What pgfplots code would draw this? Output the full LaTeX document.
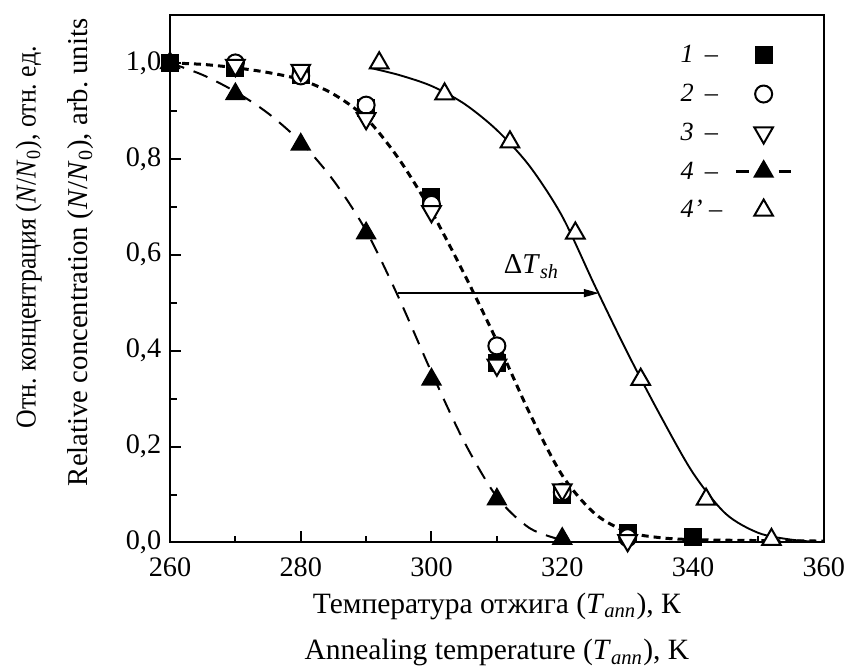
\documentclass[border=0pt]{standalone}
\usepackage{fontspec}
\setmainfont{Liberation Serif}
\newfontfamily\narrowserif[FakeStretch=0.9]{Liberation Serif}
\usepackage{pgfplots}
\pgfplotsset{compat=1.18}
\usetikzlibrary{arrows.meta}
\frenchspacing

\pgfplotstableread{
T v
260 1.0
270 0.99
280 0.975
290 0.905
300 0.72
310 0.375
320 0.10
330 0.02
340 0.012
}\sone
\pgfplotstableread{
T v
270 1.0
280 0.973
290 0.912
300 0.705
310 0.41
320 0.105
330 0.01
}\stwo
\pgfplotstableread{
T v
270 0.995
280 0.985
290 0.884
300 0.69
310 0.37
320 0.11
330 0.004
}\sthree
\pgfplotstableread{
T v
260 1.0
270 0.935
280 0.83
290 0.645
300 0.34
310 0.09
320 0.008
}\sfour
\pgfplotstableread{
T v
292 1.0
302 0.935
312 0.835
322 0.645
332 0.34
342 0.09
352 0.006
}\sfourp
\pgfplotstableread{
T v
260 1.0
265 0.997
270 0.99
275 0.98
280 0.965
285 0.935
290 0.885
295 0.80
300 0.69
305 0.56
310 0.42
315 0.27
320 0.14
325 0.06
330 0.022
335 0.01
340 0.006
350 0.004
360 0.003
}\fitdotted
\pgfplotstableread{
T v
260 1.0
265 0.975
270 0.94
275 0.895
280 0.835
285 0.755
290 0.65
295 0.51
300 0.355
305 0.21
310 0.095
315 0.03
320 0.005
}\fitdashed
\pgfplotstableread{
T v
290.5 0.99
295 0.975
300 0.952
305 0.915
310 0.86
315 0.785
320 0.68
325 0.535
330 0.395
335 0.265
340 0.145
345 0.06
350 0.02
355 0.006
360 0.0
}\fitsolid

\pgfplotsset{
  markleg/.style={legend image code/.code={\draw[##1, only marks] plot coordinates {(0.39cm,0cm)};}},
  dashleg/.style={legend image code/.code={\draw[black, line width=0.9pt] (0cm,0cm) -- (0.18cm,0cm); \draw[black, line width=0.9pt] (0.6cm,0cm) -- (0.78cm,0cm); \draw[##1, only marks] plot coordinates {(0.39cm,0cm)};}},
}

\begin{document}
\begin{tikzpicture}
\begin{axis}[
  scale only axis, width=261.5pt, height=211pt,
  xmin=260, xmax=360, ymin=0, ymax=1.1,
  xtick={260,280,300,320,340,360},
  ytick={0,0.2,0.4,0.6,0.8,1.0},
  minor x tick num=1, minor y tick num=1,
  tick align=inside, xtick pos=bottom, ytick pos=left,
  major tick length=4.5pt, minor tick length=2.6pt,
  axis line style={line width=0.8pt},
  every tick/.style={black, line width=0.8pt},
  tick label style={font=\fontsize{11.3}{13}\selectfont},
  xticklabel style={yshift=-2.5pt},
  /pgf/number format/assume math mode=true,
  yticklabel style={/pgf/number format/.cd, fixed, fixed zerofill, precision=1, use comma},
  xlabel={Температура отжига (\textit{T}\textsubscript{\textit{ann}}), К\\[4.6pt]Annealing temperature (\textit{T}\textsubscript{\textit{ann}}), K},
  xlabel style={align=center, font=\fontsize{11.8}{14}\selectfont, at={(rel axis cs:0.5,0)}, anchor=north, yshift=-16.6pt},
  ylabel={Relative concentration (\textit{N}/\textit{N}\textsubscript{0}), arb. units},
  ylabel style={name=ylab, font=\fontsize{11.5}{14}\selectfont, at={(ticklabel cs:0.55)}},
  ylabel shift=6pt,
  legend plot pos=right,
  legend cell align=left,
  legend style={at={(0.953,0.953)}, anchor=north east, draw=none, fill=none,
    inner sep=0pt, row sep=3.5pt, column sep=4pt,
    font=\fontsize{10.5}{12.5}\selectfont,
    nodes={text height=8pt, text depth=2pt, inner sep=1pt}},
  markleg,
]
% fitted curves
\addplot[black, line width=1.2pt, dash pattern=on 2.8pt off 2pt, smooth, tension=0.5, forget plot] table[x=T,y=v] {\fitdotted};
\addplot[black, line width=0.8pt, dash pattern=on 6pt off 4pt, smooth, tension=0.5, forget plot] table[x=T,y=v] {\fitdashed};
\addplot[black, line width=0.75pt, smooth, tension=0.5, forget plot] table[x=T,y=v] {\fitsolid};
% data
\addplot[only marks, mark=square*, mark size=3.3pt, black, mark options={solid, line width=0.6pt}] table[x=T,y=v] {\sone};
\addlegendentry{\textit{1}\, –}
\addplot[only marks, mark=*, mark size=3.4pt, black, mark options={solid, fill=white, line width=0.8pt}] table[x=T,y=v] {\stwo};
\addlegendentry{\textit{2}\, –}
\addplot[only marks, mark=triangle*, mark size=4.3pt, black, mark options={solid, rotate=180, fill=white, line width=0.8pt}] table[x=T,y=v] {\sthree};
\addlegendentry{\textit{3}\, –}
\addplot[only marks, mark=triangle*, mark size=4.3pt, black, mark options={solid, line width=0.6pt}, dashleg] table[x=T,y=v] {\sfour};
\addlegendentry{\textit{4}\, –}
\addplot[only marks, mark=triangle*, mark size=4.3pt, black, mark options={solid, fill=white, line width=0.8pt}] table[x=T,y=v] {\sfourp};
\addlegendentry{\textit{4'} –}
% shift arrow
\draw[-{Triangle[length=6pt,width=3.2pt]}, line width=0.5pt] (axis cs:294.8,0.52) -- (axis cs:325.6,0.52);
\node[font=\fontsize{11.5}{14}\selectfont] at (axis cs:315.3,0.575) {Δ\textit{T}\textsubscript{\textit{sh}}};
\coordinate (tr) at (rel axis cs:1,1);
\coordinate (bl) at (rel axis cs:0,0);
\end{axis}
\node[rotate=90, anchor=base, font=\narrowserif\fontsize{11.5}{14}\selectfont] at ([xshift=-20.8pt, yshift=6pt]ylab.base) {Отн. концентрация (\textit{N}/\textit{N}\textsubscript{0}), отн. ед.};
\pgfresetboundingbox
\path[use as bounding box] ([xshift=-68pt,yshift=-50pt]bl) rectangle ([xshift=8.5pt,yshift=6pt]tr);
\end{tikzpicture}
\end{document}
